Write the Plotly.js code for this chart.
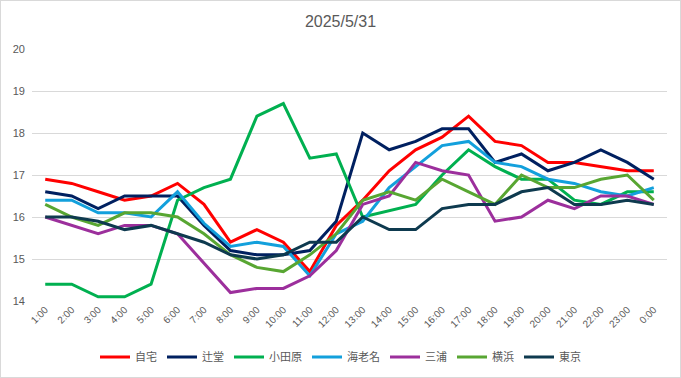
<!DOCTYPE html>
<html>
<head>
<meta charset="utf-8">
<script src="https://cdn.plot.ly/plotly-3.0.1.min.js"></script>
<style>
html,body{margin:0;padding:0;background:#fff;}
#wrap{width:681px;height:378px;box-sizing:border-box;border:1px solid #d9d9d9;overflow:hidden;}
#chart{width:679px;height:376px;}
</style>
</head>
<body>
<div id="wrap"><div id="chart"></div></div>
<script>
const hours = ["1:00","2:00","3:00","4:00","5:00","6:00","7:00","8:00","9:00","10:00","11:00","12:00",
  "13:00","14:00","15:00","16:00","17:00","18:00","19:00","20:00","21:00","22:00","23:00","0:00"];
const jitaku   = [16.9,16.8,16.6,16.4,16.5,16.8,16.3,15.4,15.7,15.4,14.7,15.8,16.4,17.1,17.6,17.9,18.4,17.8,17.7,17.3,17.3,17.2,17.1,17.1];
const tsujido  = [16.6,16.5,16.2,16.5,16.5,16.5,15.8,15.2,15.1,15.1,15.2,15.9,18.0,17.6,17.8,18.1,18.1,17.3,17.5,17.1,17.3,17.6,17.3,16.9];
const odawara  = [14.4,14.4,14.1,14.1,14.4,16.4,16.7,16.9,18.4,18.7,17.4,17.5,16.0,16.15,16.3,17.0,17.6,17.2,16.9,16.9,16.4,16.3,16.6,16.6];
const ebina    = [16.4,16.4,16.1,16.1,16.0,16.6,15.85,15.3,15.4,15.3,14.6,15.6,15.9,16.7,17.2,17.7,17.8,17.3,17.2,16.9,16.8,16.6,16.5,16.7];
const miura    = [16.0,15.8,15.6,15.8,15.8,15.6,14.9,14.2,14.3,14.3,14.6,15.2,16.3,16.5,17.3,17.1,17.0,15.9,16.0,16.4,16.2,16.5,16.5,16.3];
const yokohama = [16.3,16.0,15.8,16.1,16.1,16.0,15.6,15.1,14.8,14.7,15.1,15.6,16.4,16.6,16.4,16.9,16.6,16.3,17.0,16.7,16.7,16.9,17.0,16.4];
const tokyo    = [16.0,16.0,15.9,15.7,15.8,15.6,15.4,15.1,15.0,15.1,15.4,15.4,16.0,15.7,15.7,16.2,16.3,16.3,16.6,16.7,16.3,16.3,16.4,16.3];
const names  = ["自宅","辻堂","小田原","海老名","三浦","横浜","東京"];
const series = [jitaku, tsujido, odawara, ebina, miura, yokohama, tokyo];
const colors = ["#ff0000","#002060","#00b050","#13a0dc","#9c2f9c","#58a632","#0e3a4f"];

const traces = series.map((ys, i) => ({
  x: hours, y: ys, name: names[i], type: "scatter", mode: "lines",
  line: {color: colors[i], width: 3}
}));
const font = "Liberation Sans, Arial, Noto Sans CJK JP, sans-serif";
const layout = {
  width: 679, height: 376,
  margin: {l: 31, r: 13, t: 48, b: 76},
  paper_bgcolor: "#fff", plot_bgcolor: "#fff",
  font: {family: font, color: "#595959", size: 11},
  title: {text: "2025/5/31", x: 0.5, xanchor: "center", y: 0.945, yanchor: "middle",
          font: {size: 16, color: "#595959", family: font}},
  xaxis: {type: "category", range: [-0.5, 23.5], tickangle: -45, showgrid: false, automargin: false,
          showline: false, zeroline: false, ticks: "", tickfont: {size: 10, color: "#595959"}},
  yaxis: {range: [14, 20], dtick: 1, showgrid: true, gridcolor: "#d9d9d9", gridwidth: 1, automargin: false,
          zeroline: false, showline: false, ticks: "", tickfont: {size: 11, color: "#595959"},
          ticklabelstandoff: 6},
  showlegend: true,
  legend: {orientation: "h", x: 0.5, xanchor: "center", xref: "container", yref: "container",
           y: 0.053, yanchor: "middle",
           font: {size: 11, color: "#595959"}, itemwidth: 30, tracegroupgap: 0},
};
Plotly.newPlot("chart", traces, layout, {displayModeBar: false, staticPlot: true});
</script>
</body>
</html>
